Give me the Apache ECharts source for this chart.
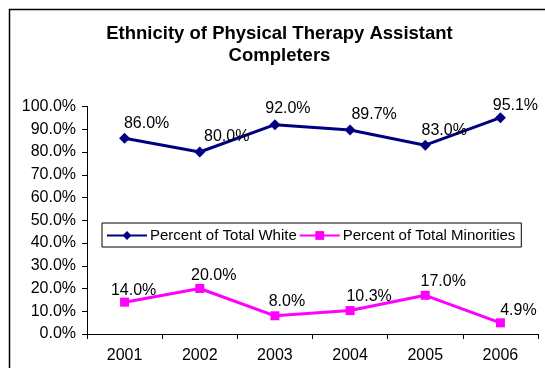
<!DOCTYPE html>
<html>
<head>
<meta charset="utf-8">
<script src="https://cdn.jsdelivr.net/npm/echarts@6/dist/echarts.min.js"></script>
<style>
  html, body { margin: 0; padding: 0; background: #fff; }
  #chart { width: 545px; height: 368px; }
</style>
</head>
<body>
<div id="chart"></div>
<script>
// ---- data ----
const years = ['2001', '2002', '2003', '2004', '2005', '2006'];
const pctWhite = [86.0, 80.0, 92.0, 89.7, 83.0, 95.1];
const pctMinorities = [14.0, 20.0, 8.0, 10.3, 17.0, 4.9];
const yTicks = [0, 10, 20, 30, 40, 50, 60, 70, 80, 90, 100];

// label nudges (style only, relative to each point)
const nudgeWhite = [[22, -15], [27, -15], [13, -16], [24, -15], [19, -15], [15, -12]];
const nudgeMinor = [[9, -12], [14, -13], [12, -14], [19, -14], [18, -14], [18, -12]];

const FONT = 'Liberation Sans, Arial, sans-serif';

function build(values, nudges) {
  return values.map((v, i) => ({
    value: v,
    label: { offset: nudges[i] }
  }));
}

const chart = echarts.init(document.getElementById('chart'), null, { renderer: 'canvas' });
chart.setOption({
  animation: false,
  backgroundColor: '#ffffff',
  textStyle: { fontFamily: FONT },
  graphic: [{
    type: 'rect',
    left: 7, top: 7,
    shape: { width: 600, height: 420 },
    style: { fill: 'none', stroke: '#000', lineWidth: 1.5 },
    silent: true, z: -1
  }],
  title: {
    text: 'Ethnicity of Physical Therapy Assistant\nCompleters',
    left: 279.5,
    textAlign: 'center',
    top: 23,
    padding: 0,
    textStyle: { fontFamily: FONT, fontSize: 18.5, fontWeight: 'bold', color: '#000', lineHeight: 22 },
    itemGap: 0
  },
  legend: {
    orient: 'horizontal',
    left: 102, top: 223, width: 480,
    padding: [5, 6, 4, 4],
    borderColor: '#000', borderWidth: 1,
    backgroundColor: '#fff',
    itemWidth: 40, itemHeight: 11, itemGap: 2,
    textStyle: { fontFamily: FONT, fontSize: 15, color: '#000', padding: [0, 0, 0, -2] },
    data: ['Percent of Total White', 'Percent of Total Minorities']
  },
  grid: { left: 87, right: 7, top: 106.5, bottom: 34, containLabel: false },
  xAxis: {
    type: 'category',
    data: years,
    boundaryGap: true,
    axisLine: { lineStyle: { color: '#000', width: 1 } },
    axisTick: { show: true, inside: false, length: 5, lineStyle: { color: '#000' } },
    axisLabel: { color: '#000', fontSize: 16, fontFamily: FONT, margin: 14 },
    splitLine: { show: false }
  },
  yAxis: {
    type: 'value',
    min: yTicks[0], max: yTicks[yTicks.length - 1], interval: yTicks[1] - yTicks[0],
    axisLine: { show: true, lineStyle: { color: '#000', width: 1 } },
    axisTick: { show: true, inside: false, length: 5, lineStyle: { color: '#000' } },
    axisLabel: { color: '#000', fontSize: 16, fontFamily: FONT, margin: 11,
      formatter: v => v.toFixed(1) + '%' },
    splitLine: { show: false }
  },
  series: [
    {
      name: 'Percent of Total White',
      type: 'line',
      data: build(pctWhite, nudgeWhite),
      color: '#000080',
      symbol: 'diamond', symbolSize: 11,
      lineStyle: { color: '#000080', width: 3 },
      itemStyle: { color: '#000080' },
      label: { show: true, position: 'inside', color: '#000', fontSize: 16, fontFamily: FONT,
        formatter: p => p.value.toFixed(1) + '%' },
      z: 3
    },
    {
      name: 'Percent of Total Minorities',
      type: 'line',
      data: build(pctMinorities, nudgeMinor),
      color: '#FF00FF',
      symbol: 'rect', symbolSize: 9,
      lineStyle: { color: '#FF00FF', width: 3 },
      itemStyle: { color: '#FF00FF' },
      label: { show: true, position: 'inside', color: '#000', fontSize: 16, fontFamily: FONT,
        formatter: p => p.value.toFixed(1) + '%' },
      z: 3
    }
  ]
});
</script>
</body>
</html>
